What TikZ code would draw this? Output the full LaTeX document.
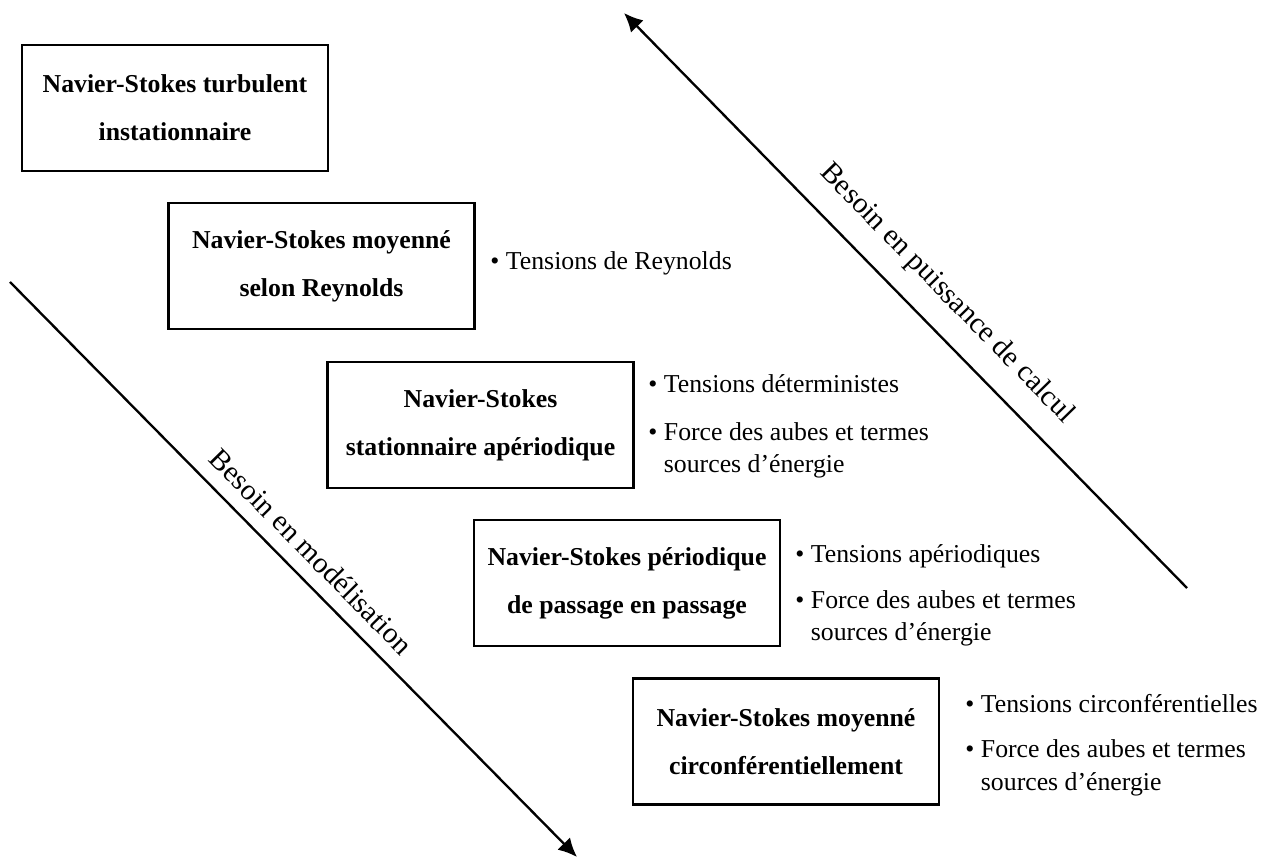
\documentclass[tikz,border=0pt]{standalone}
\usepackage{fontspec}
\setmainfont{Liberation Serif}
\usetikzlibrary{arrows.meta}

\begin{document}
\begin{tikzpicture}[x=0.015cm, y=-0.015cm, auto,
    modele/.style={draw, line width=1pt, minimum width=4.59cm, minimum height=1.89cm,
      align=center, font=\bfseries\fontsize{11}{20.5}\selectfont},
    terme/.style={anchor=base west, align=left, inner sep=0pt,
      font=\fontsize{11}{14}\selectfont},
    besoin/.style={sloped, font=\fontsize{12.5}{15}\selectfont}]
    \useasboundingbox (0,0) rectangle (1263,860);
    \node[modele] (a) at (175,108) {Navier-Stokes turbulent\\instationnaire};
    \node[modele] (b) at (321.5,266) {Navier-Stokes moyenné\\selon Reynolds};
    \node[modele] (c) at (480.5,425) {Navier-Stokes\\stationnaire apériodique};
    \node[modele] (d) at (627,583) {Navier-Stokes périodique\\de passage en passage};
    \node[modele] (e) at (786,741.5) {Navier-Stokes moyenné\\circonférentiellement};
    \node[terme] (b1) at (490,270) {\textbullet\ Tensions de Reynolds};
    \node[terme] (c1) at (648,393) {\textbullet\ Tensions déterministes};
    \node[terme] (c2) at (648,473) {\textbullet\ Force des aubes et termes\\\hphantom{\textbullet\ }sources d’énergie};
    \node[terme] (d1) at (795,563) {\textbullet\ Tensions apériodiques};
    \node[terme] (d2) at (795,641) {\textbullet\ Force des aubes et termes\\\hphantom{\textbullet\ }sources d’énergie};
    \node[terme] (e1) at (965,712) {\textbullet\ Tensions circonférentielles};
    \node[terme] (e2) at (965,790) {\textbullet\ Force des aubes et termes\\\hphantom{\textbullet\ }sources d’énergie};
    \coordinate (p) at (624,13);
    \coordinate (q) at (1187,588);
    \coordinate (r) at (10,282);
    \coordinate (s) at (577,857);
    \draw [{Latex[length=8pt,width=7.5pt]}-, line width=1pt] (p) to node[besoin, above=5pt, pos=0.53] {Besoin en puissance de calcul} (q);
    \draw [-{Latex[length=8pt,width=7.5pt]}, line width=1pt] (r) to node[besoin, above=2.6pt, pos=0.5] {Besoin en modélisation} (s);
  \end{tikzpicture}
\end{document}
